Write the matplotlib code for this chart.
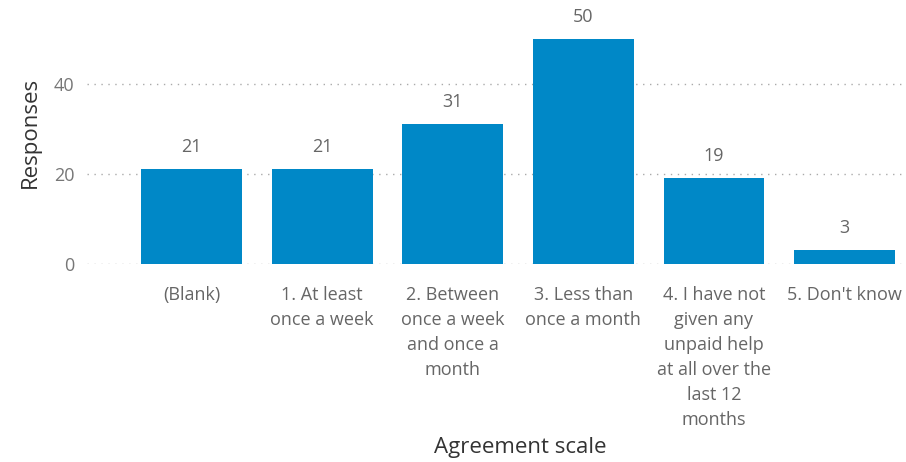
import matplotlib.pyplot as plt

# Datos
categories = ["(Blank)", "1. At least\nonce a week", "2. Between\nonce a week\nand once a\nmonth",
              "3. Less than\nonce a month",
              "4. I have not\ngiven any\nunpaid help\nat all over the\nlast 12\nmonths",
              "5. Don't know"]
responses = [21, 21, 31, 50, 19, 3]
y_ticks = [0, 20, 40]

plt.rcParams['font.family'] = ['Open Sans', 'DejaVu Sans']

fig = plt.figure(figsize=(9.06, 4.62), dpi=100)
ax = fig.add_axes([87 / 906, 198 / 462, 819 / 906, 254 / 462])

x = list(range(len(categories)))
bars = ax.bar(x, responses, width=0.773, color='#0088C7', zorder=3)

for xi, v in zip(x, responses):
    ax.annotate(str(v), (xi, v), xytext=(0, 16), textcoords='offset points',
                ha='center', va='center', fontsize=13, color='#666666')

ax.set_xlim(-0.80, 5.47)
ax.set_ylim(0, 56.4)
ax.set_yticks(y_ticks)
ax.set_xticks(x)
ax.set_xticklabels(categories, fontsize=13, color='#666666', linespacing=1.5)
ax.tick_params(axis='x', length=0, pad=16)
ax.tick_params(axis='y', length=0, pad=9, labelsize=13, labelcolor='#777777')

ax.grid(axis='y', linestyle=(0, (1, 4)), color='#AAAAAA', linewidth=1, zorder=0)
for s in ax.spines.values():
    s.set_visible(False)

ax.set_ylabel('Responses', fontsize=16, color='#333333')
ax.yaxis.set_label_coords(-0.056, 0.516)
fig.text(520 / 906, 1 - 447 / 462, 'Agreement scale', fontsize=16, color='#333333',
         ha='center', va='center')

fig.savefig('out.png', dpi=100)
